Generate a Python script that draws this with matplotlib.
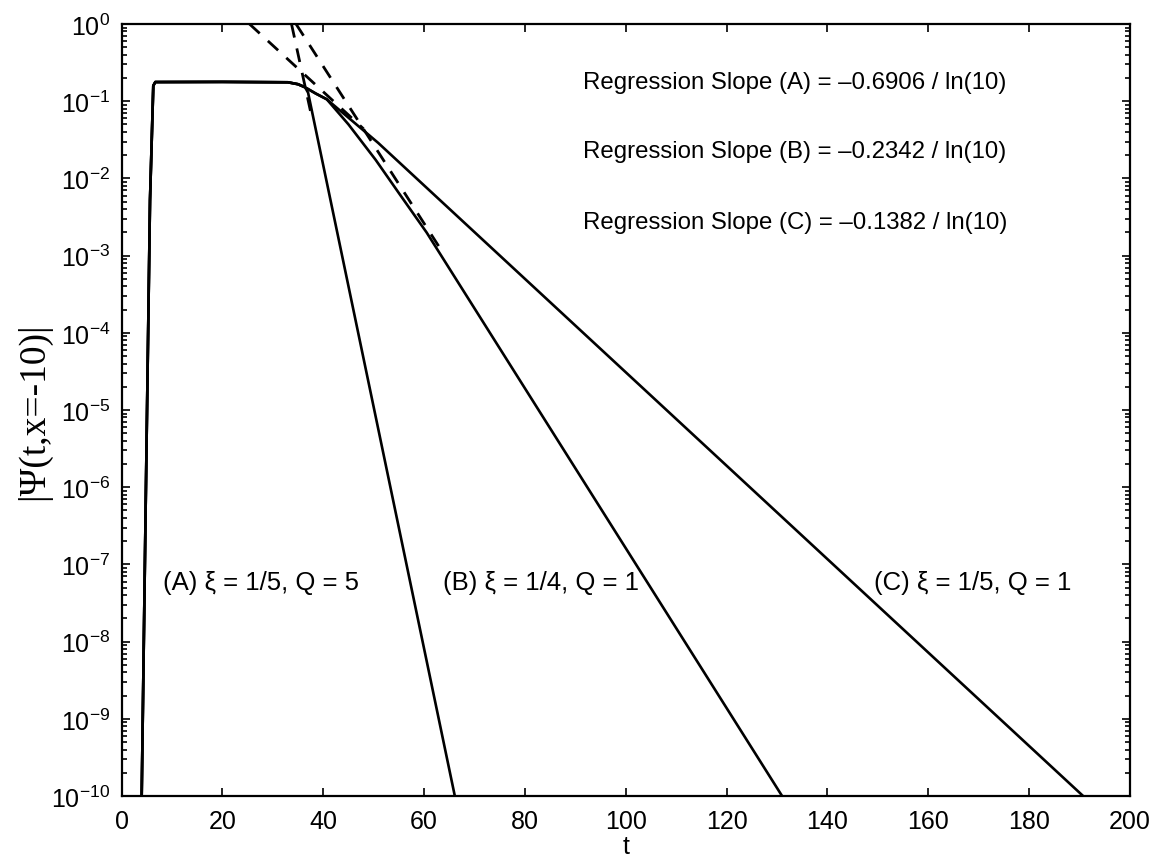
"""Decay of |Psi(t, x=-10)| for three parameter sets, with fitted regression lines."""

import numpy as np
import matplotlib
matplotlib.use("Agg")
import matplotlib.pyplot as plt
from matplotlib.ticker import LogLocator, NullFormatter, MultipleLocator

plt.rcParams["font.family"] = ["Liberation Sans", "DejaVu Sans"]
plt.rcParams["mathtext.fontset"] = "custom"
plt.rcParams["mathtext.rm"] = "Liberation Sans"
plt.rcParams["mathtext.it"] = "Liberation Sans:italic"

# shared onset + plateau as (t, log10|psi|)
common_t = [4.0, 4.8, 5.65, 6.3, 6.7, 20.0, 33.0, 35.0, 36.4]
common_log = [-10.0, -6.2, -2.28, -0.80, -0.752, -0.75, -0.755, -0.78, -0.82]

# branches after the knee
a_t = [37.0, 66.1]
a_log = [-0.89, -10.0]
b_t = [38.5, 40.7, 45.0, 50.4, 55.0, 60.5, 131.0]
b_log = [-0.90, -0.975, -1.30, -1.76, -2.19, -2.70, -10.0]
c_t = [38.5, 40.7, 50.9, 190.7]
c_log = [-0.90, -0.975, -1.54, -10.0]

# regression lines: natural-log slope per unit t, log10 intercept, visible end
reg_names = ["A", "B", "C"]
reg_slope = [-0.6906, -0.2342, -0.1382]
reg_icpt = [10.11, 3.52, 1.523]
reg_tend = [37.6, 64.0, 48.0]

case_labels = ["(A) ξ = 1/5, Q = 5", "(B) ξ = 1/4, Q = 1", "(C) ξ = 1/5, Q = 1"]
case_label_t = [8.2, 63.8, 149.2]


def main():
    fig = plt.figure(figsize=(11.64, 8.62), dpi=100)
    ax = fig.add_axes([0.1044, 0.0754, 0.8664, 0.8956])

    # dashed regression fits (under the curves)
    for s, b, te in zip(reg_slope, reg_icpt, reg_tend):
        m = s / np.log(10)
        t0 = -b / m  # where the fit leaves the top of the axes
        tt = np.array([t0, te])
        ax.semilogy(tt, 10 ** (b + m * tt), "--", color="black", lw=2.0,
                    dashes=(5, 4), zorder=2)

    for bt, bl in [(a_t, a_log), (b_t, b_log), (c_t, c_log)]:
        t = np.array(common_t + bt)
        y = 10 ** np.array(common_log + bl)
        ax.semilogy(t, y, "-", color="black", lw=1.9, zorder=3)

    ax.set_xlim(0, 200)
    ax.set_ylim(1e-10, 1)
    ax.xaxis.set_major_locator(MultipleLocator(20))
    ax.yaxis.set_major_locator(LogLocator(base=10, numticks=20))
    ax.yaxis.set_minor_locator(LogLocator(base=10, subs=np.arange(2, 10), numticks=20))
    ax.yaxis.set_minor_formatter(NullFormatter())
    ax.tick_params(which="both", direction="in", top=True, right=True,
                   labelsize=18, width=1.2)
    ax.tick_params(which="major", length=6)
    ax.tick_params(which="minor", length=3.5)
    ax.tick_params(axis="x", which="major", pad=9)
    ax.tick_params(axis="y", which="major", pad=8)
    for sp in ax.spines.values():
        sp.set_linewidth(1.6)

    ax.set_xlabel("t", fontsize=18, labelpad=1)
    ax.set_ylabel("|Ψ(t,x=-10)|", fontsize=27, family=["Liberation Serif", "DejaVu Serif"],
                  labelpad=0)

    for i, (n, s) in enumerate(zip(reg_names, reg_slope)):
        ax.text(91.5, 10 ** [-0.755, -1.65, -2.56][i],
                f"Regression Slope ({n}) = \u2013{abs(s):.4f} / ln(10)",
                fontsize=17.3, va="center", ha="left")

    for lab, tx in zip(case_labels, case_label_t):
        ax.text(tx, 10 ** -7.23, lab, fontsize=18.5, va="center", ha="left")

    fig.savefig("out.png", dpi=100, facecolor="white")
    plt.close(fig)


if __name__ == "__main__":
    main()
